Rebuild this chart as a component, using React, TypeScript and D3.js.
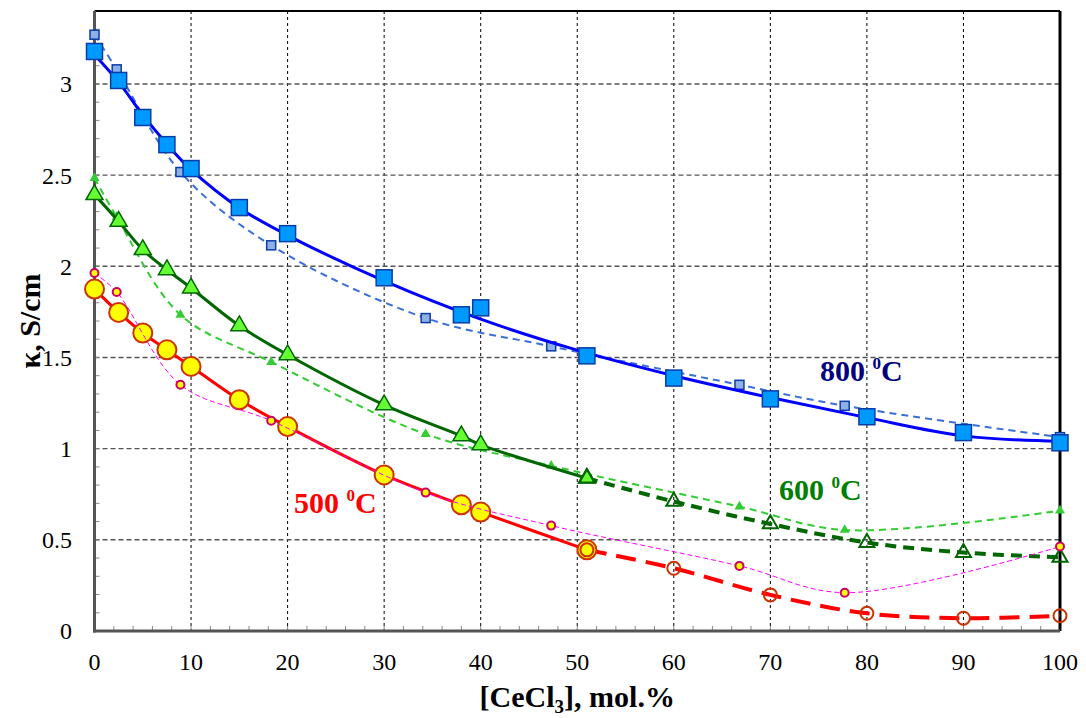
import React from "react";
import * as d3 from "d3";

// ---- data ----
const X_TICKS = [0, 10, 20, 30, 40, 50, 60, 70, 80, 90, 100];
const Y_TICKS = [0, 0.5, 1, 1.5, 2, 2.5, 3];
const Y_TICK_LABELS = ["0", "0.5", "1", "1.5", "2", "2.5", "3"];

// 800 °C – large squares
const x800 = [0, 2.5, 5, 7.5, 10, 15, 20, 30, 38, 40, 51, 60, 70, 80, 90, 100];
const k800 = [3.178, 3.019, 2.816, 2.667, 2.536, 2.322, 2.179, 1.937, 1.734, 1.772, 1.509, 1.387, 1.273, 1.175, 1.088, 1.032];
// 800 °C – smoothed solid curve as drawn
const xFit800 = [0, 2.5, 5, 7.5, 10, 15, 20, 30, 40, 50, 60, 70, 80, 90, 100];
const kFit800 = [3.16, 3.01, 2.83, 2.67, 2.53, 2.32, 2.17, 1.92, 1.71, 1.54, 1.40, 1.28, 1.17, 1.07, 1.04];

// small-marker series (second data set)
const xSmall = [0, 2.3, 8.9, 18.3, 34.3, 47.3, 66.8, 77.7, 100];
const k800s = [3.27, 3.08, 2.517, 2.115, 1.716, 1.561, 1.35, 1.235, 1.063];
const k600s = [2.484, 2.27, 1.734, 1.475, 1.08, 0.906, 0.682, 0.554, 0.66];
const k500s = [1.963, 1.859, 1.35, 1.153, 0.759, 0.578, 0.357, 0.21, 0.463];

// 600 / 500 °C – large markers, solid part
const xBig = [0, 2.5, 5, 7.5, 10, 15, 20, 30, 38, 40, 51];
const k600 = [2.393, 2.246, 2.091, 1.981, 1.881, 1.674, 1.515, 1.24, 1.07, 1.021, 0.838];
const k500 = [1.875, 1.747, 1.634, 1.542, 1.451, 1.268, 1.121, 0.856, 0.692, 0.652, 0.445];
// dashed continuation
const xExt = [51, 60, 70, 80, 90, 100];
const k600ext = [0.838, 0.71, 0.587, 0.485, 0.43, 0.404];
const k500ext = [0.445, 0.344, 0.198, 0.097, 0.07, 0.084];

const W = 1086;
const H = 718;
const L = 94.5, R = 1060, T = 11, B = 631;

const x = d3.scaleLinear().domain([0, 100]).range([L, R]);
const y = d3.scaleLinear().domain([0, 3.4]).range([B, T]);

const zip = (xs: number[], ys: number[]) => xs.map((v, i) => [v, ys[i]] as [number, number]);
const line = d3
  .line<[number, number]>()
  .x((d) => x(d[0]))
  .y((d) => y(d[1]))
  .curve(d3.curveCatmullRom.alpha(0.5));

const tri = (cx: number, cy: number, s: number) => {
  const h = s * 0.866;
  return `M${cx},${cy - (2 * h) / 3}L${cx + s / 2},${cy + h / 3}L${cx - s / 2},${cy + h / 3}Z`;
};

const FONT = "'Liberation Serif', 'Times New Roman', serif";

export default function App() {
  const yMinor = d3.range(0, 34).map((i) => i / 10);
  const xMinor = d3.range(0, 51).map((i) => i * 2);
  return (
    <svg width={W} height={H} style={{ position: "absolute", left: 0, top: 0, background: "#fff" }} fontFamily={FONT}>
      <rect x={0} y={0} width={W} height={H} fill="#fff" />
      {/* grid */}
      {X_TICKS.slice(1, -1).map((v) => (
        <line key={"gx" + v} x1={x(v)} x2={x(v)} y1={T} y2={B} stroke="#000" strokeWidth={1} strokeDasharray="3,3" />
      ))}
      {Y_TICKS.slice(1).map((v) => (
        <line key={"gy" + v} x1={L} x2={R} y1={y(v)} y2={y(v)} stroke="#555" strokeWidth={1.4} strokeDasharray="5,3" />
      ))}
      {/* minor ticks */}
      {yMinor.map((v) => (
        <line key={"ty" + v} x1={L} x2={L + 5} y1={y(v)} y2={y(v)} stroke="#888" strokeWidth={1} />
      ))}
      {xMinor.map((v) => (
        <line key={"tx" + v} x1={x(v)} x2={x(v)} y1={B} y2={B - 5} stroke="#888" strokeWidth={1} />
      ))}
      {/* frame */}
      <line x1={L} x2={R} y1={T} y2={T} stroke="#000" strokeWidth={2} />
      <line x1={R} x2={R} y1={T} y2={B} stroke="#000" strokeWidth={3} />
      <line x1={L} x2={L} y1={T} y2={B + 1.5} stroke="#555" strokeWidth={3} />
      <line x1={L - 1.5} x2={R} y1={B} y2={B} stroke="#555" strokeWidth={3} />

      {/* tick labels */}
      {Y_TICKS.map((v, i) => (
        <text key={"ly" + v} x={72} y={y(v)} dy="0.35em" textAnchor="end" fontSize={24} fill="#000">
          {Y_TICK_LABELS[i]}
        </text>
      ))}
      {X_TICKS.map((v) => (
        <text key={"lx" + v} x={x(v)} y={670} textAnchor="middle" fontSize={24} fill="#000">
          {v}
        </text>
      ))}
      {/* axis titles */}
      <text x={(L + R) / 2} y={707} textAnchor="middle" fontSize={30} fontWeight="bold">
        [CeCl<tspan fontSize={19} dy={6}>3</tspan>
        <tspan dy={-6}>], mol.%</tspan>
      </text>
      <text transform={`translate(40,${(T + B) / 2}) rotate(-90)`} textAnchor="middle" fontSize={30} fontWeight="bold">
        κ, S/cm
      </text>

      {/* 800 small */}
      <path d={line(zip(xSmall, k800s)) || ""} fill="none" stroke="#3a6fd8" strokeWidth={2} strokeDasharray="7,5" />
      {zip(xSmall, k800s).map(([a, b], i) => (
        <rect key={"s8" + i} x={x(a) - 4.5} y={y(b) - 4.5} width={9} height={9} fill="#8fb0e3" stroke="#0a3ca8" strokeWidth={1.5} />
      ))}
      {/* 800 big */}
      <path d={line(zip(xFit800, kFit800)) || ""} fill="none" stroke="#0000ff" strokeWidth={3} />
      {zip(x800, k800).map(([a, b], i) => (
        <rect key={"b8" + i} x={x(a) - 8} y={y(b) - 8} width={16} height={16} fill="#0099ff" stroke="#0a3ca8" strokeWidth={1.5} />
      ))}

      {/* 600 small */}
      <path d={line(zip(xSmall, k600s)) || ""} fill="none" stroke="#33cc33" strokeWidth={2} strokeDasharray="7,5" />
      {zip(xSmall, k600s).map(([a, b], i) => (
        <path key={"s6" + i} d={tri(x(a), y(b), 10)} fill="#33cc33" />
      ))}
      {/* 600 big */}
      <path d={line(zip(xBig, k600)) || ""} fill="none" stroke="#006600" strokeWidth={3} />
      <path d={line(zip(xExt, k600ext)) || ""} fill="none" stroke="#006600" strokeWidth={4} strokeDasharray="11,7" />
      {zip(xBig, k600).map(([a, b], i) => (
        <path key={"b6" + i} d={tri(x(a), y(b), 17)} fill="#66ff33" stroke="#006600" strokeWidth={1.5} />
      ))}
      {zip(xExt, k600ext).map(([a, b], i) => (
        <path key={"e6" + i} d={tri(x(a), y(b), 15)} fill="none" stroke="#006600" strokeWidth={2} />
      ))}

      {/* 500 big */}
      <path d={line(zip(xBig, k500)) || ""} fill="none" stroke="#ff0000" strokeWidth={3} />
      <path d={line(zip(xExt, k500ext)) || ""} fill="none" stroke="#ff0000" strokeWidth={4} strokeDasharray="20,10" />
      {zip(xBig, k500).map(([a, b], i) => (
        <circle key={"b5" + i} cx={x(a)} cy={y(b)} r={9.5} fill="#ffff00" stroke="#cc3300" strokeWidth={2} />
      ))}
      {zip(xExt, k500ext).map(([a, b], i) => (
        <circle key={"e5" + i} cx={x(a)} cy={y(b)} r={6.5} fill="none" stroke="#cc3300" strokeWidth={2} />
      ))}
      {/* 500 small */}
      <path d={line(zip(xSmall, k500s)) || ""} fill="none" stroke="#ff00ff" strokeWidth={1} strokeDasharray="5,3" />
      {zip(xSmall, k500s).map(([a, b], i) => (
        <circle key={"s5" + i} cx={x(a)} cy={y(b)} r={4} fill="#ffff00" stroke="#cc0066" strokeWidth={2} />
      ))}

      {/* annotations */}
      <text x={820} y={381} fontSize={30} fontWeight="bold" fill="#000080">
        800 <tspan fontSize={17} dy={-12}>0</tspan>
        <tspan dy={12}>C</tspan>
      </text>
      <text x={779} y={500} fontSize={30} fontWeight="bold" fill="#008000">
        600 <tspan fontSize={17} dy={-12}>0</tspan>
        <tspan dy={12}>C</tspan>
      </text>
      <text x={294} y={513} fontSize={30} fontWeight="bold" fill="#ff0000">
        500 <tspan fontSize={17} dy={-12}>0</tspan>
        <tspan dy={12}>C</tspan>
      </text>
    </svg>
  );
}
